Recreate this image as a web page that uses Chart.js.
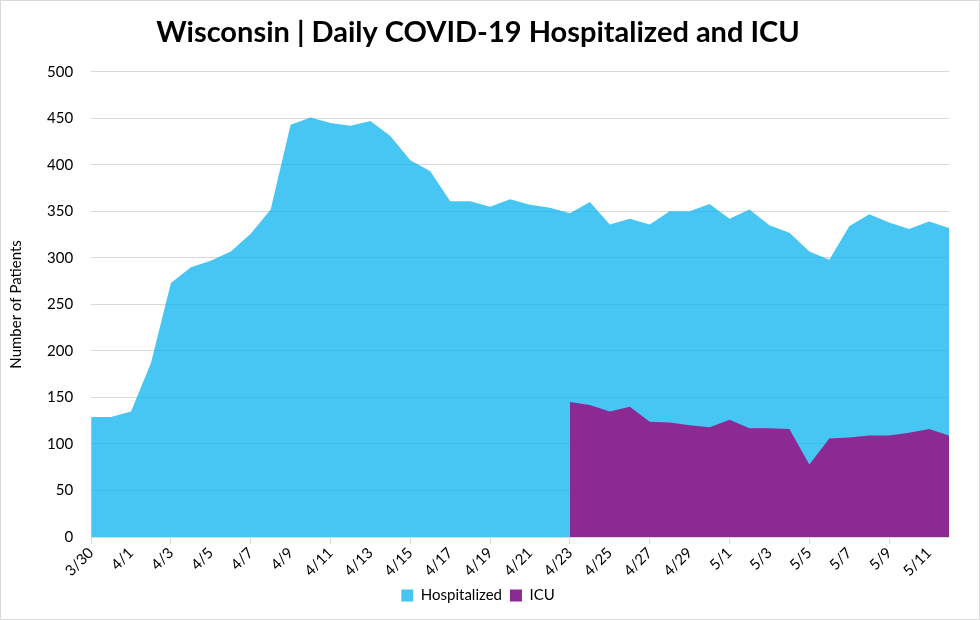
<!DOCTYPE html>
<html>
<head>
<meta charset="utf-8">
<script src="https://cdn.jsdelivr.net/npm/chart.js@4/dist/chart.umd.min.js"></script>
<style>
  html, body { margin: 0; padding: 0; background: #fff; }
  #wrap { width: 978px; height: 618px; border: 1px solid #d9d9d9; position: relative; }
</style>
</head>
<body>
<div id="wrap"><canvas id="chart" width="978" height="618"></canvas></div>
<script>
// Dates 3/30 through 5/12
const dates = [
  '3/30', '3/31',
  '4/1', '4/2', '4/3', '4/4', '4/5', '4/6', '4/7', '4/8', '4/9', '4/10',
  '4/11', '4/12', '4/13', '4/14', '4/15', '4/16', '4/17', '4/18', '4/19', '4/20',
  '4/21', '4/22', '4/23', '4/24', '4/25', '4/26', '4/27', '4/28', '4/29', '4/30',
  '5/1', '5/2', '5/3', '5/4', '5/5', '5/6', '5/7', '5/8', '5/9', '5/10', '5/11', '5/12'
];

const hospitalized = [
  129, 129,
  135, 187, 273, 290, 297, 307, 326, 352, 443, 451,
  445, 442, 447, 431, 405, 393, 361, 361, 355, 363,
  357, 354, 348, 360, 336, 342, 336, 350, 350, 358,
  342, 352, 335, 327, 307, 298, 334, 347, 338, 331, 339, 332
];

// ICU reporting starts 4/23
const icu = [
  null, null,
  null, null, null, null, null, null, null, null, null, null,
  null, null, null, null, null, null, null, null, null, null,
  null, null, 145, 142, 135, 140, 124, 123, 120, 118,
  126, 117, 117, 116, 78, 106, 107, 109, 109, 112, 116, 109
];

const yTicks = [0, 50, 100, 150, 200, 250, 300, 350, 400, 450, 500];

const FONT = "Lato, 'Open Sans', sans-serif";
const GRID = '#d9d9d9';

new Chart(document.getElementById('chart'), {
  type: 'line',
  data: {
    labels: dates,
    datasets: [
      {
        // first dataset is drawn on top
        label: 'ICU',
        data: icu,
        borderWidth: 0,
        borderColor: 'rgba(0,0,0,0)',
        backgroundColor: 'rgba(140,42,147,1)',
        fill: 'origin',
        pointRadius: 0,
        tension: 0,
        spanGaps: false
      },
      {
        label: 'Hospitalized',
        data: hospitalized,
        borderWidth: 0,
        borderColor: 'rgba(0,0,0,0)',
        backgroundColor: 'rgba(0,176,240,0.72)',
        fill: 'origin',
        pointRadius: 0,
        tension: 0
      }
    ]
  },
  options: {
    responsive: false,
    animation: false,
    layout: { padding: { left: 6, right: 30, top: 8, bottom: 6 } },
    scales: {
      x: {
        offset: false,
        grid: {
          drawOnChartArea: false,
          drawTicks: true,
          tickLength: 7,
          color: ctx => (ctx.index % 2 === 0 ? GRID : 'rgba(0,0,0,0)')
        },
        border: { display: true, color: GRID, width: 1 },
        ticks: {
          autoSkip: false,
          minRotation: 45,
          maxRotation: 45,
          color: '#000',
          font: { family: FONT, size: 15 },
          padding: 0,
          callback: function(value, index) {
            return index % 2 === 0 ? dates[index] : null;
          }
        }
      },
      y: {
        min: 0,
        max: 500,
        afterBuildTicks: axis => {
          axis.ticks = yTicks.map(v => ({ value: v }));
        },
        grid: { color: GRID, drawTicks: false, lineWidth: 1 },
        border: { display: false },
        ticks: {
          color: '#000',
          padding: 18,
          font: { family: FONT, size: 15 }
        },
        title: {
          display: true,
          text: 'Number of Patients',
          color: '#000',
          font: { family: FONT, size: 15 },
          padding: { top: 0, bottom: 4 }
        }
      }
    },
    plugins: {
      title: {
        display: true,
        text: 'Wisconsin | Daily COVID-19 Hospitalized and ICU',
        color: '#000',
        font: { family: FONT, size: 29, weight: 'bold' },
        padding: { top: 6, bottom: 22 }
      },
      legend: {
        position: 'bottom',
        reverse: true,
        labels: {
          color: '#000',
          font: { family: FONT, size: 15 },
          boxWidth: 12,
          boxHeight: 12,
          padding: 8
        }
      },
      tooltip: { enabled: false }
    }
  }
});
</script>
</body>
</html>
